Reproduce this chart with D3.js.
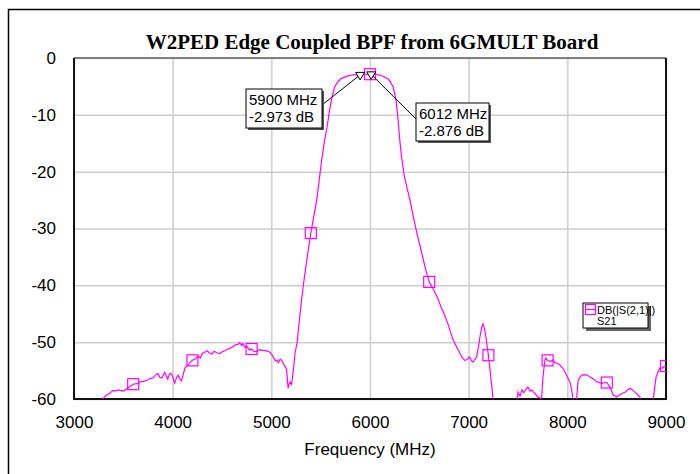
<!DOCTYPE html>
<html>
<head>
<meta charset="utf-8">
<script src="https://cdn.jsdelivr.net/npm/d3@7"></script>
<style>
  body { margin: 0; background: #fff; }
  svg text { font-family: "Liberation Sans", Arial, sans-serif; }
</style>
</head>
<body>
<div id="svgRoot"></div>
<script>
const freqs = [3250, 3300, 3330, 3365, 3390, 3415, 3450, 3500, 3550, 3600, 3640, 3670, 3700, 3740, 3770, 3800,
  3825, 3850, 3870, 3890, 3920, 3950, 3970, 3990, 4020, 4040, 4055, 4075, 4090, 4110, 4125, 4155, 4180, 4200,
  4230, 4260, 4280, 4300, 4320, 4350, 4370, 4400, 4420, 4450, 4480, 4500, 4530, 4560, 4580, 4610, 4630, 4660,
  4680, 4700, 4710, 4730, 4750, 4780, 4800, 4820, 4850, 4880, 4920, 4950, 4990, 5020, 5040, 5057, 5070, 5090,
  5105, 5120, 5140, 5155, 5170, 5180, 5190, 5205, 5220, 5240, 5260, 5285, 5310, 5335, 5360, 5400, 5430, 5460,
  5485, 5510, 5540, 5565, 5590, 5615, 5640, 5665, 5700, 5765, 5830, 5900, 5950, 6000, 6012, 6060, 6100, 6140,
  6185, 6210, 6235, 6250, 6265, 6280, 6290, 6305, 6320, 6345, 6375, 6405, 6440, 6475, 6510, 6540, 6570, 6600,
  6640, 6680, 6720, 6760, 6800, 6840, 6870, 6900, 6930, 6960, 6980, 7010, 7030, 7045, 7065, 7080, 7100, 7115,
  7135, 7145, 7160, 7170, 7185, 7200, 7220, 7235, 7250, 7280, 7350, 7440, 7490, 7500, 7520, 7540, 7560, 7580,
  7600, 7620, 7640, 7670, 7700, 7730, 7740, 7750, 7770, 7780, 7800, 7830, 7855, 7875, 7895, 7925, 7950, 7975,
  8000, 8030, 8045, 8055, 8070, 8085, 8095, 8110, 8130, 8150, 8175, 8200, 8225, 8250, 8275, 8300, 8325, 8350,
  8375, 8400, 8430, 8450, 8465, 8500, 8530, 8560, 8585, 8610, 8635, 8660, 8685, 8710, 8735, 8750, 8800, 8850,
  8870, 8885, 8900, 8920, 8940, 8960, 8980, 9000];
const s21 = [-62, -59.8, -59.3, -59, -58.5, -58.6, -58.4, -58.6, -58, -57.4, -57.3, -57, -56.9, -56.7, -56.4, -56.3,
  -55.8, -55.5, -56.2, -56.3, -55.3, -56.5, -55.5, -55.6, -57.2, -56.2, -55.8, -56.5, -56.8, -55.5, -54.5, -54, -53.5, -53.2,
  -52.9, -52.5, -52.8, -52, -51.8, -51.5, -51.9, -52.1, -51.6, -51.9, -52, -51.7, -51.5, -51.2, -51.1, -50.8, -50.5, -50.4,
  -50.1, -50.6, -50.2, -50.9, -50.7, -51.4, -51.2, -51.6, -51.7, -51.3, -51.5, -51.5, -51.8, -52.6, -53.3, -53.1, -53.6, -53,
  -53.2, -53.7, -54.3, -54.9, -58.1, -57.4, -57, -57.4, -55.5, -51.9, -50.2, -46, -42, -38.6, -35.5, -30.8, -27.9, -25,
  -21.5, -18, -14.5, -12.1, -9.2, -6.9, -5.2, -4.4, -3.7, -3.2, -2.95, -2.97, -2.9, -2.85, -2.88, -2.9, -3, -3.3,
  -3.7, -4.3, -5.1, -6.2, -7.6, -10, -12.1, -15, -17.4, -20.5, -22.8, -25, -28, -30.8, -33.3, -35.5, -37.6, -39.4,
  -40.6, -42, -43.8, -45.4, -47.3, -49.5, -50.6, -51.6, -52.6, -53.2, -53.1, -52.6, -53.3, -53.5, -53, -52.6, -50.8, -49,
  -47.2, -46.8, -47.6, -48.5, -50.5, -52.3, -55.5, -57.9, -60.5, -66, -70, -66, -61, -58.8, -59.5, -58.4, -58.9, -58.3,
  -57.9, -58.6, -58.4, -59, -59.6, -59.9, -59.8, -56.7, -53.5, -52.8, -53.2, -53.4, -53.1, -53.6, -53.7, -54, -54.5, -55.2,
  -56.1, -57.2, -58.5, -59.9, -63, -62, -59.8, -56.7, -56.1, -55.8, -55.7, -55.8, -56.1, -56.3, -56.6, -57, -57.1, -57.3,
  -57.1, -57.1, -57.9, -58.6, -59.3, -59.6, -59.3, -59, -58.8, -58.4, -58.1, -58.4, -58.8, -59.2, -59.6, -61, -66, -63,
  -60.2, -58, -56.1, -55.2, -54.5, -54.6, -54.3, -54.2];

// trace symbols every 600 MHz
const symbolFreqs = [3600, 4200, 4800, 5400, 6000, 6600, 7200, 7800, 8400, 9000];

// marker readouts
const markerFreqs = [5900, 6012];
const markerVals = [-2.973, -2.876];

const xTicks = [3000, 4000, 5000, 6000, 7000, 8000, 9000];
const yTicks = [0, -10, -20, -30, -40, -50, -60];

const W = 700, H = 474;
const margin = { top: 58, right: 34, bottom: 75, left: 74 };
const width = W - margin.left - margin.right;
const height = H - margin.top - margin.bottom;

const root = d3.select("#svgRoot").append("svg")
  .attr("width", W).attr("height", H);

// outer frame (only top/left visible)
root.append("path")
  .attr("d", "M8.5," + H + "V9.5H" + W)
  .attr("fill", "none").attr("stroke", "#000").attr("stroke-width", 1.5);

const svg = root.append("g")
  .attr("transform", "translate(" + margin.left + "," + margin.top + ")");

const x = d3.scaleLinear().domain([3000, 9000]).range([0, width]);
const y = d3.scaleLinear().domain([-60, 0]).range([height, 0]);

// grid
svg.append("g")
  .attr("transform", "translate(0," + height + ")")
  .call(d3.axisBottom(x).tickValues(xTicks).tickSize(-height).tickFormat(""))
  .call(g => g.select(".domain").remove())
  .call(g => g.selectAll("line").attr("stroke", "#cdcdcd").attr("stroke-width", 1.5));
svg.append("g")
  .call(d3.axisLeft(y).tickValues(yTicks).tickSize(-width).tickFormat(""))
  .call(g => g.select(".domain").remove())
  .call(g => g.selectAll("line").attr("stroke", "#cdcdcd").attr("stroke-width", 1.5));

// tick labels (plain hyphen minus, like the original)
svg.append("g")
  .attr("transform", "translate(0," + height + ")")
  .call(d3.axisBottom(x).tickValues(xTicks).tickSize(0).tickPadding(17).tickFormat(d => String(d)))
  .call(g => g.select(".domain").remove())
  .call(g => g.selectAll("text").attr("font-size", 17).attr("fill", "#000")
    .style("font-family", "'Liberation Sans', Arial, sans-serif"));
svg.append("g")
  .call(d3.axisLeft(y).tickValues(yTicks).tickSize(0).tickPadding(18).tickFormat(d => String(d)))
  .call(g => g.select(".domain").remove())
  .call(g => g.selectAll("text").attr("font-size", 17).attr("fill", "#000")
    .style("font-family", "'Liberation Sans', Arial, sans-serif"));

// plot frame
svg.append("line").attr("x1", 0).attr("x2", width).attr("y1", 0).attr("y2", 0)
  .attr("stroke", "#808080").attr("stroke-width", 2);
svg.append("path")
  .attr("d", "M0,0V" + height + "H" + width + "V0")
  .attr("fill", "none").attr("stroke", "#111").attr("stroke-width", 2);

svg.append("clipPath").attr("id", "clip")
  .append("rect").attr("width", width).attr("height", height);

const data = freqs.map((f, i) => ({ f: f, v: s21[i] }));
const line = d3.line().x(d => x(d.f)).y(d => y(d.v));

const plot = svg.append("g").attr("clip-path", "url(#clip)");
plot.append("path")
  .datum(data)
  .attr("d", line)
  .attr("fill", "none")
  .attr("stroke", "#ff00ff")
  .attr("stroke-width", 1.2);

plot.selectAll("rect.sym")
  .data(symbolFreqs)
  .enter()
  .append("rect")
  .attr("class", "sym")
  .attr("x", d => x(d) - 5.5)
  .attr("y", d => y(s21[freqs.indexOf(d)]) - 5.5)
  .attr("width", 11).attr("height", 11)
  .attr("fill", "none").attr("stroke", "#ff00ff").attr("stroke-width", 1.2);

// marker labels with leader lines
const boxes = [
  { x: 172, y: 31, w: 76, h: 39 },
  { x: 342, y: 45, w: 73, h: 38 }
];
markerFreqs.forEach((f, i) => {
  const b = boxes[i];
  const px = x(f), py = y(markerVals[i]);
  svg.append("line")
    .attr("x1", i == 0 ? b.x + b.w : b.x).attr("y1", b.y + 16)
    .attr("x2", px).attr("y2", py)
    .attr("stroke", "#000").attr("stroke-width", 1);
  svg.append("path")
    .attr("d", "M" + (px - 4.5) + "," + (py - 2.5) + "H" + (px + 4.5) + "L" + px + "," + (py + 5) + "Z")
    .attr("fill", "#fff").attr("stroke", "#000").attr("stroke-width", 1);
  svg.append("rect")
    .attr("x", b.x + 2).attr("y", b.y + 2).attr("width", b.w).attr("height", b.h)
    .attr("fill", "#555");
  svg.append("rect")
    .attr("x", b.x).attr("y", b.y).attr("width", b.w).attr("height", b.h)
    .attr("fill", "#fff").attr("stroke", "#000").attr("stroke-width", 1);
  svg.append("text")
    .attr("x", b.x + 3).attr("y", b.y + 16)
    .attr("font-size", 15)
    .text(f + " MHz");
  svg.append("text")
    .attr("x", b.x + 3).attr("y", b.y + 33)
    .attr("font-size", 15)
    .text(markerVals[i].toFixed(3) + " dB");
});

// legend
const lg = svg.append("g").attr("transform", "translate(" + (583 - margin.left) + "," + (303 - margin.top) + ")");
lg.append("rect").attr("x", 3).attr("y", 3).attr("width", 65).attr("height", 25).attr("fill", "#666");
lg.append("rect").attr("width", 65).attr("height", 25)
  .attr("fill", "#fff").attr("stroke", "#000").attr("stroke-width", 1);
lg.append("rect").attr("x", 2.5).attr("y", 1.5).attr("width", 10).attr("height", 10)
  .attr("fill", "none").attr("stroke", "#ff00ff").attr("stroke-width", 1.2);
lg.append("line").attr("x1", 2).attr("x2", 13).attr("y1", 6.5).attr("y2", 6.5)
  .attr("stroke", "#ff00ff").attr("stroke-width", 1.2);
lg.append("text").attr("x", 14).attr("y", 10.5).attr("font-size", 11).text("DB(|S(2,1)|)");
lg.append("text").attr("x", 14).attr("y", 22).attr("font-size", 11).text("S21");

// title and axis title
root.append("text")
  .attr("x", margin.left + width / 2 + 2).attr("y", 49)
  .attr("text-anchor", "middle")
  .style("font-family", "'Liberation Serif', 'Times New Roman', serif")
  .attr("font-weight", "bold")
  .attr("font-size", 21)
  .text("W2PED Edge Coupled BPF from 6GMULT Board");

root.append("text")
  .attr("x", margin.left + width / 2).attr("y", 455)
  .attr("text-anchor", "middle")
  .attr("font-size", 17)
  .text("Frequency (MHz)");
</script>
</body>
</html>
